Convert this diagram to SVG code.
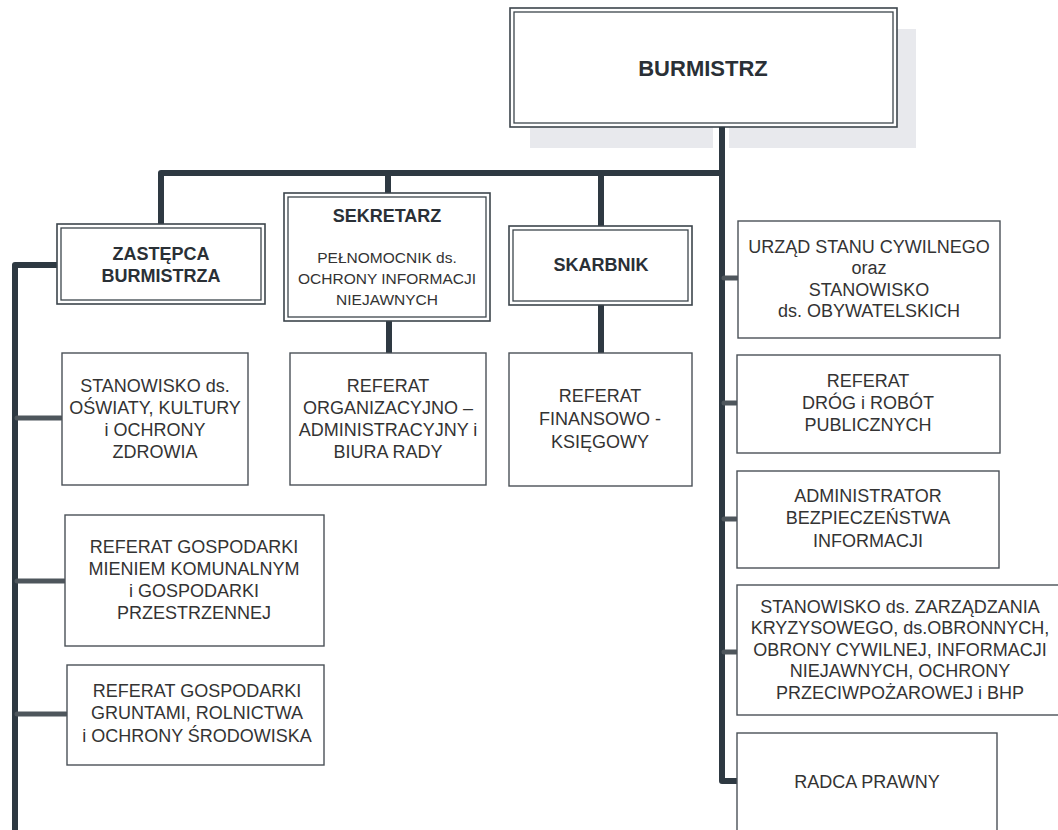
<svg xmlns="http://www.w3.org/2000/svg" width="1058" height="830" viewBox="0 0 1058 830">
<style>
.dbo{fill:#fff;stroke:#3c454c;stroke-width:1.6}
.dbi{fill:none;stroke:#3c454c;stroke-width:1.3}
.box{fill:#fff;stroke:#4a5157;stroke-width:1.4}
.t{font-family:"Liberation Sans",Arial,sans-serif;font-size:18px;fill:#333;text-anchor:middle}
.h{font-family:"Liberation Sans",Arial,sans-serif;font-weight:bold;font-size:18px;fill:#2a3036;text-anchor:middle}
.s{font-size:15.5px}
.main{fill:none;stroke:#2e3942;stroke-width:6;stroke-linejoin:round}
.stub{fill:none;stroke:#4e565c;stroke-width:5;stroke-linecap:round}
</style>
<rect width="1058" height="830" fill="#fff"/>

<g id="burmistrz">
<rect x="530" y="29" width="386" height="119" fill="#e8e9ed"/>
<rect x="713" y="127" width="16" height="21" fill="#fff"/>
<rect class="dbo" x="510" y="8" width="387" height="119"/>
<rect class="dbi" x="514" y="12" width="379" height="111"/>
<text class="h" x="703" y="76" style="font-size:22px">BURMISTRZ</text>
</g>

<g id="connectors">
<path class="main" d="M722 127 V781 H737"/>
<path class="main" d="M161 224 V173 H722"/>
<path class="main" d="M388 173 V193"/>
<path class="main" d="M601 173 V226"/>
<path class="main" d="M389 321 V353"/>
<path class="main" d="M601 305 V353"/>
<path class="main" d="M57 265 H15 V830"/>
<path class="stub" d="M17 418 H61"/>
<path class="stub" d="M17 581 H64"/>
<path class="stub" d="M17 714 H66"/>
<path class="stub" d="M724 278 H737"/>
<path class="stub" d="M724 403 H736"/>
<path class="stub" d="M724 519 H736"/>
<path class="stub" d="M724 652 H736"/>
</g>

<g id="zastepca">
<rect class="dbo" x="57" y="224" width="208" height="80"/>
<rect class="dbi" x="61" y="228" width="200" height="72"/>
<text class="h" x="161" y="260">ZASTĘPCA</text>
<text class="h" x="161" y="282">BURMISTRZA</text>
</g>

<g id="sekretarz">
<rect class="dbo" x="284" y="193" width="206" height="128"/>
<rect class="dbi" x="288" y="197" width="198" height="120"/>
<text class="h" x="387" y="222">SEKRETARZ</text>
<text class="t s" x="387" y="263">PEŁNOMOCNIK ds.</text>
<text class="t s" x="387" y="284">OCHRONY INFORMACJI</text>
<text class="t s" x="387" y="305">NIEJAWNYCH</text>
</g>

<g id="skarbnik">
<rect class="dbo" x="509" y="226" width="183" height="79"/>
<rect class="dbi" x="513" y="230" width="175" height="71"/>
<text class="h" x="601" y="271">SKARBNIK</text>
</g>

<g id="usc">
<rect class="box" x="738" y="221" width="262" height="117"/>
<text class="t" x="869" y="253">URZĄD STANU CYWILNEGO</text>
<text class="t" x="869" y="274">oraz</text>
<text class="t" x="869" y="296">STANOWISKO</text>
<text class="t" x="869" y="317">ds. OBYWATELSKICH</text>
</g>

<g id="oswiata">
<rect class="box" x="62" y="353" width="186" height="132"/>
<text class="t" x="155" y="392">STANOWISKO ds.</text>
<text class="t" x="155" y="414">OŚWIATY, KULTURY</text>
<text class="t" x="155" y="436">i OCHRONY</text>
<text class="t" x="155" y="458">ZDROWIA</text>
</g>

<g id="organizacyjny">
<rect class="box" x="290" y="353" width="196" height="132"/>
<text class="t" x="388" y="392">REFERAT</text>
<text class="t" x="388" y="414">ORGANIZACYJNO –</text>
<text class="t" x="388" y="436">ADMINISTRACYJNY i</text>
<text class="t" x="388" y="458">BIURA RADY</text>
</g>

<g id="finansowy">
<rect class="box" x="509" y="353" width="183" height="133"/>
<text class="t" x="600" y="402">REFERAT</text>
<text class="t" x="600" y="425">FINANSOWO -</text>
<text class="t" x="600" y="448">KSIĘGOWY</text>
</g>

<g id="drogi">
<rect class="box" x="737" y="355" width="263" height="98"/>
<text class="t" x="868" y="387">REFERAT</text>
<text class="t" x="868" y="409">DRÓG i ROBÓT</text>
<text class="t" x="868" y="431">PUBLICZNYCH</text>
</g>

<g id="abi">
<rect class="box" x="737" y="471" width="262" height="97"/>
<text class="t" x="868" y="502">ADMINISTRATOR</text>
<text class="t" x="868" y="524">BEZPIECZEŃSTWA</text>
<text class="t" x="868" y="547">INFORMACJI</text>
</g>

<g id="mienie">
<rect class="box" x="65" y="515" width="259" height="131"/>
<text class="t" x="194" y="553">REFERAT GOSPODARKI</text>
<text class="t" x="194" y="575">MIENIEM KOMUNALNYM</text>
<text class="t" x="194" y="597">i GOSPODARKI</text>
<text class="t" x="194" y="619">PRZESTRZENNEJ</text>
</g>

<g id="kryzysowe">
<rect class="box" x="737" y="585" width="326" height="130"/>
<text class="t" x="900" y="613">STANOWISKO ds. ZARZĄDZANIA</text>
<text class="t" x="900" y="634">KRYZYSOWEGO, ds.OBRONNYCH,</text>
<text class="t" x="900" y="656">OBRONY CYWILNEJ, INFORMACJI</text>
<text class="t" x="900" y="677">NIEJAWNYCH, OCHRONY</text>
<text class="t" x="900" y="699">PRZECIWPOŻAROWEJ i BHP</text>
</g>

<g id="grunty">
<rect class="box" x="67" y="665" width="257" height="100"/>
<text class="t" x="197" y="697">REFERAT GOSPODARKI</text>
<text class="t" x="197" y="719">GRUNTAMI, ROLNICTWA</text>
<text class="t" x="197" y="742">i OCHRONY ŚRODOWISKA</text>
</g>

<g id="radca">
<rect class="box" x="737" y="733" width="260" height="110"/>
<text class="t" x="867" y="788">RADCA PRAWNY</text>
</g>
</svg>
